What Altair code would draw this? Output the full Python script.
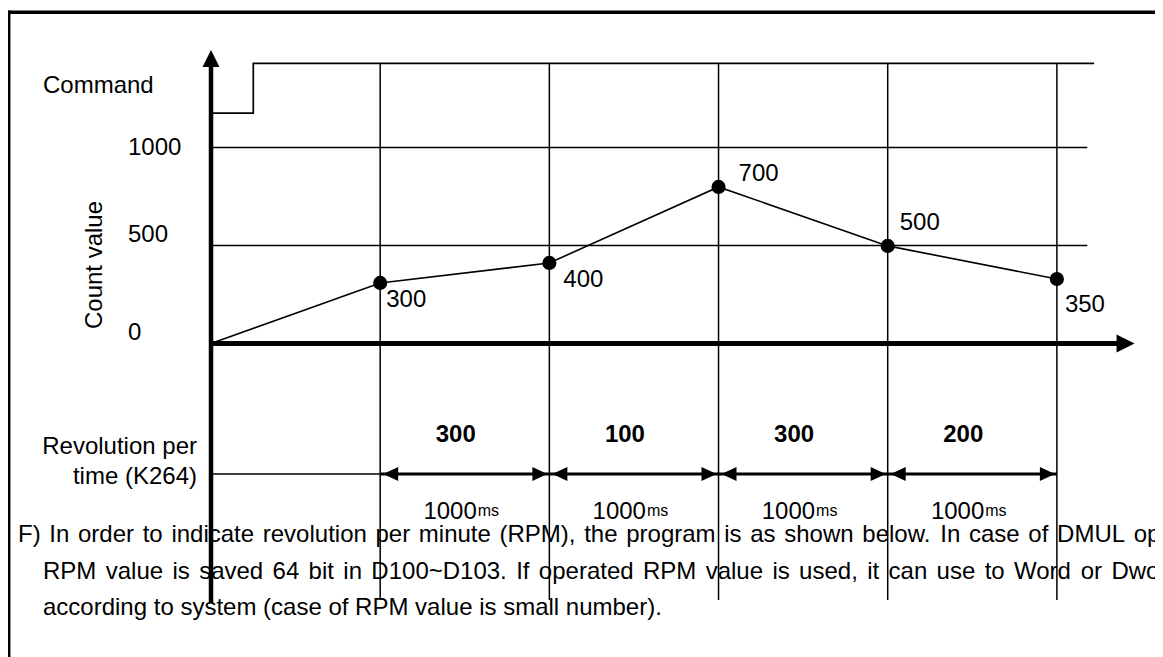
import altair as alt
import pandas as pd

# ---------------- values ----------------
times = [0, 1, 2, 3, 4, 5]                      # seconds (1000 ms per interval)
count_pos = [0, 309, 411, 799, 498, 329]        # dot heights as drawn
point_labels = ["", "300", "400", "700", "500", "350"]
label_dx = [0, 6, 14, 20, 12, 8]
label_dy = [0, 17, 17, -13, -23, 26]

rev_labels = ["300", "100", "300", "200"]
interval_start = [1, 2, 3, 4]
interval_end = [2, 3, 4, 5]
interval_ms = ["1000", "1000", "1000", "1000"]

tick_values = [1000, 500, 0]
grid_values = [1000, 500]

command_t = [0, 0.25, 0.25, 5.22]
command_level = [1176, 1176, 1429, 1429]

paragraph = [
    "F) In order to indicate revolution per minute (RPM), the program is as shown below. In case of DMUL ope",
    "RPM value is saved 64 bit in D100~D103. If operated RPM value is used, it can use to Word or Dword",
    "according to system (case of RPM value is small number).",
]

FONT = "Liberation Sans"
FS = 24
W, H = 1147, 649

# Arial / Liberation Sans advance widths (1/1000 em) to lay out justified lines word by word
ARIAL = {" ": 278, "(": 333, ")": 333, ",": 278, "-": 333, ".": 278, "~": 584}
ARIAL.update({d: 556 for d in "0123456789"})
ARIAL.update(dict(zip("ABCDEFGHIJKLMNOPQRSTUVWXYZ",
                      [667, 667, 722, 722, 667, 611, 778, 722, 278, 500, 667, 556, 833,
                       722, 778, 667, 778, 722, 667, 611, 722, 667, 944, 667, 667, 611])))
ARIAL.update(dict(zip("abcdefghijklmnopqrstuvwxyz",
                      [556, 556, 500, 556, 556, 278, 556, 556, 222, 222, 500, 222, 833,
                       556, 556, 556, 556, 333, 500, 278, 556, 500, 722, 500, 500, 500])))


def text_width(s, size=FS):
    return sum(ARIAL.get(c, 556) for c in s) * size / 1000.0


XS = alt.Scale(domain=[-1.2, 5.58], nice=False, zero=False)
YS = alt.Scale(domain=[-1600, 1712], nice=False, zero=False)


def xq(f):
    return alt.X(f, type="quantitative", scale=XS, axis=None)


def x2q(f):
    return alt.X2(f)


def yq(f):
    return alt.Y(f, type="quantitative", scale=YS, axis=None)


one = pd.DataFrame({"a": [0]})
layers = []

# ---- frame ----
layers.append(alt.Chart(one).mark_rule(color="black", strokeWidth=3.5).encode(
    x=alt.value(0.7), y=alt.value(2.6), y2=alt.value(H + 20)))
layers.append(alt.Chart(one).mark_rule(color="black", strokeWidth=3.5).encode(
    x=alt.value(-1), x2=alt.value(W + 20), y=alt.value(4.3)))

# ---- command signal ----
cmd = pd.DataFrame({"t": command_t, "v": command_level, "i": list(range(len(command_t)))})
layers.append(alt.Chart(cmd).mark_line(color="black", strokeWidth=1.7).encode(
    x=xq("t"), y=yq("v"), order="i:Q"))

# ---- horizontal grid ----
gh = pd.DataFrame({"v": grid_values, "t0": [0] * len(grid_values), "t1": [5.18] * len(grid_values)})
layers.append(alt.Chart(gh).mark_rule(color="black", strokeWidth=1.7).encode(
    x=xq("t0"), x2=x2q("t1"), y=yq("v")))

# ---- vertical time lines ----
gv = pd.DataFrame({"t": times[1:], "top": [1429] * 5, "bot": [-1309] * 5})
layers.append(alt.Chart(gv).mark_rule(color="black", strokeWidth=1.5).encode(
    x=xq("t"), y=yq("top"), y2=alt.Y2("bot")))

# ---- thick axes with arrow heads ----
ax = pd.DataFrame({"t0": [0], "t1": [5.37], "v0": [0], "top": [1440], "bot": [-1324]})
layers.append(alt.Chart(ax).mark_rule(color="black", strokeWidth=4.5).encode(
    x=xq("t0"), y=yq("top"), y2=alt.Y2("bot")))
layers.append(alt.Chart(ax).mark_rule(color="black", strokeWidth=5).encode(
    x=xq("t0"), x2=x2q("t1"), y=yq("v0")))
up_head = pd.DataFrame({"t": [0], "v": [1454]})
layers.append(alt.Chart(up_head).mark_point(
    shape="M0,-1L1,1L-1,1Z", filled=True, opacity=1, color="black", size=289, strokeWidth=0).encode(
    x=xq("t"), y=yq("v")))
right_head = pd.DataFrame({"t": [5.406], "v": [0]})
layers.append(alt.Chart(right_head).mark_point(
    shape="M1,0L-1,-1L-1,1Z", filled=True, opacity=1, color="black", size=324, strokeWidth=0).encode(
    x=xq("t"), y=yq("v")))

# ---- count value line and dots ----
pts = pd.DataFrame({"t": times, "v": count_pos, "lab": point_labels})
layers.append(alt.Chart(pts).mark_line(color="black", strokeWidth=1.6).encode(
    x=xq("t"), y=yq("v")))
layers.append(alt.Chart(pts).transform_filter("datum.t > 0").mark_circle(
    color="black", size=200, opacity=1).encode(x=xq("t"), y=yq("v")))
for i in range(1, len(times)):
    layers.append(alt.Chart(pts).transform_filter(f"datum.t == {times[i]}").mark_text(
        align="left", baseline="middle", font=FONT, fontSize=FS, color="black",
        dx=label_dx[i], dy=label_dy[i]).encode(x=xq("t"), y=yq("v"), text="lab:N"))

# ---- y tick labels ----
tk = pd.DataFrame({"v": tick_values, "lab": [str(v) for v in tick_values]})
layers.append(alt.Chart(tk).transform_filter("datum.v == 1000").mark_text(
    align="left", baseline="middle", font=FONT, fontSize=FS, color="black").encode(
    x=alt.value(120), y=yq("v"), text="lab:N"))
layers.append(alt.Chart(tk).transform_filter("datum.v < 1000").mark_text(
    align="left", baseline="middle", font=FONT, fontSize=FS, color="black", dy=-10).encode(
    x=alt.value(120), y=yq("v"), text="lab:N"))

# ---- revolution per time panel ----
ROW_ARROW = 466
layers.append(alt.Chart(pd.DataFrame({"t0": [0], "t1": [1]})).mark_rule(
    color="black", strokeWidth=1.7).encode(x=xq("t0"), x2=x2q("t1"), y=alt.value(ROW_ARROW)))
iv = pd.DataFrame({"s": interval_start, "e": interval_end, "rev": rev_labels, "ms": interval_ms})
iv["mid"] = (iv["s"] + iv["e"]) / 2
layers.append(alt.Chart(iv).mark_rule(color="black", strokeWidth=3).encode(
    x=xq("s"), x2=x2q("e"), y=alt.value(ROW_ARROW)))
layers.append(alt.Chart(iv).mark_point(
    shape="M-1,0L1,-0.93L1,0.93Z", filled=True, opacity=1, color="black", size=225,
    strokeWidth=0, xOffset=10.5).encode(x=xq("s"), y=alt.value(ROW_ARROW)))
layers.append(alt.Chart(iv).mark_point(
    shape="M1,0L-1,-0.93L-1,0.93Z", filled=True, opacity=1, color="black", size=225,
    strokeWidth=0, xOffset=-9.5).encode(x=xq("e"), y=alt.value(ROW_ARROW)))
layers.append(alt.Chart(iv).mark_text(
    align="center", baseline="middle", font=FONT, fontSize=FS, fontWeight="bold",
    color="black", dx=-9).encode(x=xq("mid"), y=alt.value(427), text="rev:N"))
layers.append(alt.Chart(iv).mark_text(
    align="right", baseline="alphabetic", font=FONT, fontSize=FS, color="black",
    dx=12).encode(x=xq("mid"), y=alt.value(511), text="ms:N"))
layers.append(alt.Chart(iv).mark_text(
    align="left", baseline="alphabetic", font=FONT, fontSize=16, color="black",
    dx=13).encode(x=xq("mid"), y=alt.value(508), text=alt.value("ms")))


# ---- static labels ----
def label(txt, x, y, align="left", angle=0, size=FS):
    kw = dict(align=align, baseline="middle", font=FONT, fontSize=size, color="black")
    if angle:
        kw["angle"] = angle
    return alt.Chart(one).mark_text(**kw).encode(
        x=alt.value(x), y=alt.value(y), text=alt.value(txt))


layers.append(label("Command", 35, 78))
layers.append(label("Count value", 87, 257, align="center", angle=270))
layers.append(label("Revolution per", 189, 439, align="right"))
layers.append(label("time (K264)", 189, 469, align="right"))

# ---- paragraph below the diagram (first two lines justified, last line natural) ----
line_x0 = [10, 35, 35]
line_y = [527, 564, 600]
extra_space = [2.0, 2.7, 0.0]
rows = []
for li, line in enumerate(paragraph):
    x = line_x0[li]
    for w in line.split(" "):
        rows.append({"x": x, "y": line_y[li], "w": w})
        x += text_width(w) + text_width(" ") + extra_space[li]
words = pd.DataFrame(rows)
layers.append(alt.Chart(words).mark_text(
    align="left", baseline="middle", font=FONT, fontSize=FS, color="black").encode(
    x=alt.X("x:Q", scale=None, axis=None), y=alt.Y("y:Q", scale=None, axis=None), text="w:N"))

chart = alt.layer(*layers).properties(
    width=W, height=H, autosize=alt.AutoSizeParams(type="none"), padding=0,
    background="white",
).configure_view(stroke=None)

chart.save("out.html", embed_options={"renderer": "svg", "actions": False})
